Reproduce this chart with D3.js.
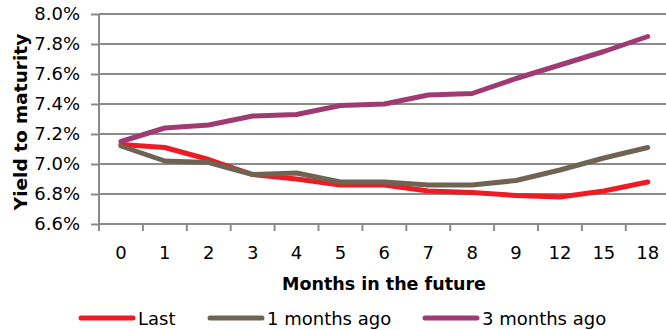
<!DOCTYPE html>
<html>
<head>
<meta charset="utf-8">
<script src="https://cdnjs.cloudflare.com/ajax/libs/d3/7.8.5/d3.min.js"></script>
<style>
  html, body { margin: 0; padding: 0; background: #fff; }
  svg { display: block; font-family: "DejaVu Sans", sans-serif; }
</style>
</head>
<body>
<svg id="chart" width="666" height="330"></svg>
<script>
const categories = ["0","1","2","3","4","5","6","7","8","9","12","15","18"];
const last      = [7.13, 7.11, 7.03, 6.93, 6.90, 6.86, 6.86, 6.82, 6.81, 6.79, 6.78, 6.82, 6.88];
const oneMonth  = [7.12, 7.02, 7.01, 6.93, 6.94, 6.88, 6.88, 6.86, 6.86, 6.89, 6.96, 7.04, 7.11];
const threeMonth= [7.15, 7.24, 7.26, 7.32, 7.33, 7.39, 7.40, 7.46, 7.47, 7.57, 7.66, 7.75, 7.85];
const yTicks = [6.6, 6.8, 7.0, 7.2, 7.4, 7.6, 7.8, 8.0];
const seriesNames = ["Last", "1 months ago", "3 months ago"];
const colors = ["#ed1c24", "#6f6353", "#a03a72"];

(function () {
const svg = d3.select("#chart");
const pLeft = 99, pTop = 14, pBottom = 224, pRight = 99 + 13 * 43.9;

const x = d3.scaleBand().domain(categories).range([pLeft, pRight]);
const y = d3.scaleLinear().domain([6.6, 8.0]).range([pBottom, pTop]);

// gridlines
svg.append("g").selectAll("line").data(yTicks.filter(d => d > 6.6)).join("line")
  .attr("x1", pLeft).attr("x2", 666)
  .attr("y1", d => y(d)).attr("y2", d => y(d))
  .attr("stroke", "#8a8a8a").attr("stroke-width", 2);

// y axis
const yAxis = svg.append("g").attr("transform", `translate(${pLeft},0)`)
  .call(d3.axisLeft(y).tickValues(yTicks).tickSize(8).tickPadding(11).tickFormat(d => d.toFixed(1) + "%"));
yAxis.select(".domain").attr("stroke", "#8a8a8a").attr("stroke-width", 2).attr("d", `M0,${pTop}V${pBottom}`);
yAxis.selectAll(".tick line").attr("stroke", "#8a8a8a").attr("stroke-width", 2);
yAxis.selectAll(".tick text").attr("fill", "#000").style("font-size", "18px").style("font-family", "DejaVu Sans");

// x axis line
svg.append("line").attr("x1", pLeft).attr("x2", 666).attr("y1", pBottom).attr("y2", pBottom)
  .attr("stroke", "#8a8a8a").attr("stroke-width", 2);
// x ticks at band boundaries
const bounds = categories.map(c => x(c)).concat([x.range()[1]]);
svg.append("g").selectAll("line").data(bounds).join("line")
  .attr("x1", d => d).attr("x2", d => d).attr("y1", pBottom).attr("y2", pBottom + 7)
  .attr("stroke", "#8a8a8a").attr("stroke-width", 2);
svg.append("g").selectAll("text").data(categories).join("text")
  .attr("x", d => x(d) + x.bandwidth() / 2).attr("y", 258.5)
  .attr("text-anchor", "middle").style("font-size", "18px").attr("fill", "#000")
  .text(d => d);

// lines
const line = d3.line().x((d, i) => x(categories[i]) + x.bandwidth() / 2).y(d => y(d));
[last, oneMonth, threeMonth].forEach((s, k) => {
  svg.append("path").datum(s).attr("d", line)
    .attr("fill", "none").attr("stroke", colors[k]).attr("stroke-width", 5)
    .attr("stroke-linejoin", "round").attr("stroke-linecap", "round");
});

// axis titles
svg.append("text").attr("transform", "translate(27,122) rotate(-90)")
  .attr("text-anchor", "middle").style("font-size", "18.5px").style("font-weight", "bold")
  .text("Yield to maturity");
svg.append("text").attr("x", 384).attr("y", 289.5).attr("text-anchor", "middle")
  .style("font-size", "17.5px").style("font-weight", "bold").text("Months in the future");

// legend
const legendX = [81, 210, 425];
const lg = svg.append("g");
seriesNames.forEach((n, k) => {
  lg.append("line").attr("x1", legendX[k]).attr("x2", legendX[k] + 52).attr("y1", 318).attr("y2", 318)
    .attr("stroke", colors[k]).attr("stroke-width", 5).attr("stroke-linecap", "round");
  lg.append("text").attr("x", legendX[k] + 57).attr("y", 324.5).style("font-size", "18px").text(n);
});
})();
</script>
</body>
</html>
